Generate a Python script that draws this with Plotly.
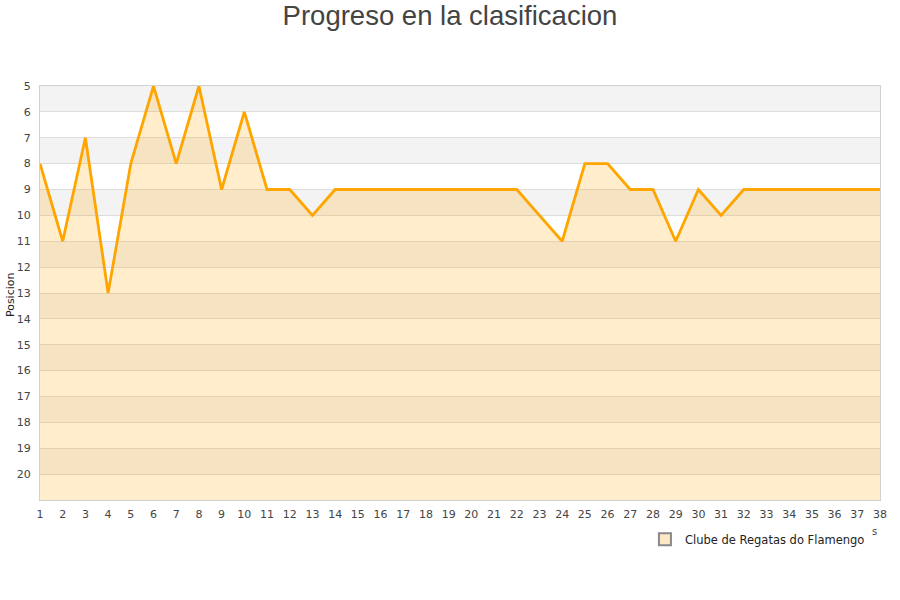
import plotly.graph_objects as go

jornadas = list(range(1, 39))
posicion = [8, 11, 7, 13, 8, 5, 8, 5, 9, 6,
            9, 9, 10, 9, 9, 9, 9, 9, 9, 9,
            9, 9, 10, 11, 8, 8, 9, 9, 11, 9,
            10, 9, 9, 9, 9, 9, 9, 9]
fondo = [21] * len(jornadas)
y_ticks = list(range(5, 21))
equipo = "Clube de Regatas do Flamengo"
titulo = "Progreso en la clasificacion"
y_titulo = "Posicion"

fig = go.Figure()

# baseline for fill
fig.add_trace(go.Scatter(x=jornadas, y=fondo, mode="lines",
                         line=dict(width=0, color="rgba(0,0,0,0)"),
                         showlegend=False, hoverinfo="skip"))
fig.add_trace(go.Scatter(x=jornadas, y=posicion, mode="lines",
                         line=dict(color="#ffa500", width=2.8),
                         fill="tonexty", fillcolor="rgba(255,165,0,0.2)",
                         showlegend=False, name=equipo))
# legend entry
fig.add_trace(go.Scatter(x=[None], y=[None], mode="markers", name=equipo,
                         marker=dict(symbol="square", size=7, color="#ffe9c4",
                                     line=dict(color="#888", width=1))))

shapes = []
for v in range(5, 21, 2):
    shapes.append(dict(type="rect", xref="paper", yref="y", x0=0, x1=1,
                       y0=v, y1=v + 1, fillcolor="#f3f3f3", line=dict(width=0),
                       layer="below"))

fig.update_layout(
    width=900, height=600,
    margin=dict(l=40, r=20, t=86, b=100, autoexpand=False),
    paper_bgcolor="white", plot_bgcolor="white",
    title=dict(text=titulo, x=0.5, xanchor="center", y=1 - 15 / 600, yanchor="middle",
               font=dict(family="Liberation Sans, Arial, sans-serif", size=27.5, color="#444")),
    shapes=shapes,
    showlegend=True,
    legend=dict(x=0.988, xanchor="right", y=-0.060, yanchor="top",
                font=dict(family="DejaVu Sans", size=11.5, color="#222"),
                bgcolor="rgba(0,0,0,0)", itemsizing="constant",
                itemwidth=30),
    font=dict(family="DejaVu Sans", size=11, color="#444"),
    annotations=[
        dict(text="s", x=0.994, y=-0.075, xref="paper", yref="paper",
             showarrow=False, font=dict(size=10, color="#444"),
             xanchor="center", yanchor="middle"),
        dict(text=y_titulo, x=-0.0357, y=0.495, xref="paper", yref="paper",
             showarrow=False, textangle=-90, font=dict(size=11, color="#222"),
             xanchor="center", yanchor="middle"),
    ],
)
fig.update_xaxes(range=[1, 38], tickmode="array", tickvals=jornadas, automargin=False,
                 showgrid=False, zeroline=False, showline=True, linecolor="#d0d0d0",
                 mirror=True, ticks="", ticklabelstandoff=4,
                 tickfont=dict(size=11, color="#444"))
fig.update_yaxes(range=[21, 5], tickmode="array", tickvals=y_ticks, automargin=False,
                 showgrid=True, gridcolor="#dddddd", gridwidth=1, zeroline=False,
                 showline=True, linecolor="#d0d0d0", mirror=True, ticks="",
                 ticklabelstandoff=6, tickfont=dict(size=11, color="#444"))

fig.write_html("out.html", config={"displayModeBar": False},
               post_script="document.body.style.margin='0';")
